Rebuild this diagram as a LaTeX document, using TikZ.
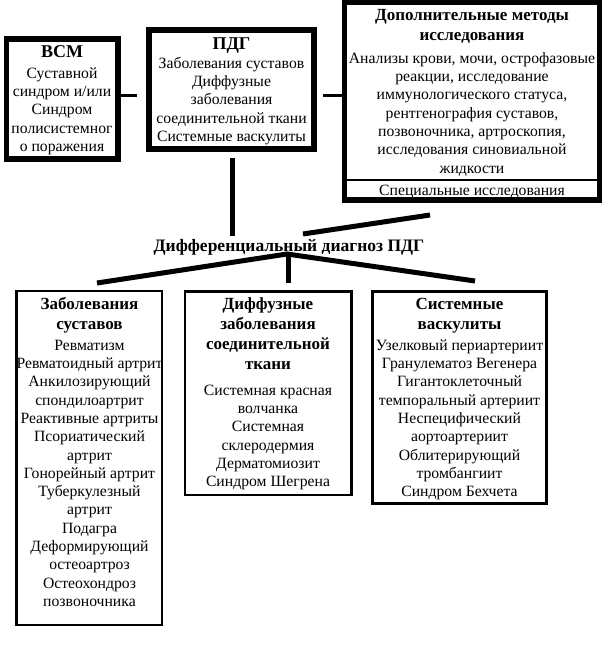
\documentclass[tikz,border=0pt]{standalone}
\usepackage{fontspec}
\setmainfont{Liberation Serif}
\begin{document}
\begin{tikzpicture}[x=1pt,y=-1pt,
  heavybox/.style={draw, line width=5.5pt, inner sep=0pt, rectangle},
  lightbox/.style={draw, line width=2.8pt, inner sep=0pt, rectangle},
  bodytext/.style={inner sep=0pt, align=center, anchor=north, font=\fontsize{15.7}{18.3}\selectfont},
  headtext/.style={inner sep=0pt, align=center, anchor=north, font=\fontsize{17}{20}\selectfont\bfseries},
  bigtitle/.style={inner sep=0pt, anchor=base, font=\fontsize{18}{20}\selectfont\bfseries},
  thinconn/.style={line width=3pt},
  heavyconn/.style={line width=5pt}]
\useasboundingbox (0,0) rectangle (603,649);
\fill[white] (0,0) rectangle (603,649);
% top boxes
\node[heavybox, minimum width=111.5pt, minimum height=120pt] (vsm) at (62.25,99) {};
\node[heavybox, minimum width=165pt, minimum height=119pt] (pdg) at (231.5,89.5) {};
\node[heavybox, minimum width=255pt, minimum height=198pt] (dop) at (472,101) {};
\coordinate (dv) at (0,180);
\draw[line width=2pt] (dop.west |- dv) -- (dop.east |- dv);
% bottom boxes
\node[lightbox, minimum width=145.5pt, minimum height=334pt] (b1) at (89.25,458) {};
\node[lightbox, minimum width=166.5pt, minimum height=203.5pt] (b2) at (268.25,393.25) {};
\node[lightbox, minimum width=174pt, minimum height=212pt] (b3) at (459.5,397.5) {};
% texts
\node[bigtitle] (tvsm) at (62,57) {ВСМ};
\node[bodytext] (bvsm) at (62,65) {\rule{0pt}{13pt}Суставной\\синдром и/или\\Синдром\\полисистемног\\о поражения};
\node[bigtitle] (tpdg) at (231.5,49) {ПДГ};
\node[bodytext] (bpdg) at (231.5,55) {\rule{0pt}{13pt}Заболевания суставов\\Диффузные\\заболевания\\соединительной ткани\\Системные васкулиты};
\node[headtext] (tdop) at (472,6) {\rule{0pt}{14pt}Дополнительные методы\\исследования};
\node[bodytext] (bdop) at (472,50) {\rule{0pt}{13pt}Анализы крови, мочи, острофазовые\\реакции, исследование\\иммунологического статуса,\\рентгенография суставов,\\позвоночника, артроскопия,\\исследования синовиальной\\жидкости};
\node[inner sep=0pt, anchor=base, font=\fontsize{15.7}{18.3}\selectfont] (sdop) at (472,195) {Специальные исследования};
\node[inner sep=0pt, anchor=base, font=\fontsize{17.5}{20}\selectfont\bfseries] (dd) at (289,251) {Дифференциальный диагноз ПДГ};
\node[headtext] (tb1) at (89.5,295) {\rule{0pt}{14pt}Заболевания\\суставов};
\node[bodytext] (bb1) at (89.5,337) {\rule{0pt}{13pt}Ревматизм\\Ревматоидный артрит\\Анкилозирующий\\спондилоартрит\\Реактивные артриты\\Псориатический\\артрит\\Гонорейный артрит\\Туберкулезный\\артрит\\Подагра\\Деформирующий\\остеоартроз\\Остеохондроз\\позвоночника};
\node[headtext] (tb2) at (268,295) {\rule{0pt}{14pt}Диффузные\\заболевания\\соединительной\\ткани};
\node[bodytext] (bb2) at (268,382) {\rule{0pt}{13pt}Системная красная\\волчанка\\Системная\\склеродермия\\Дерматомиозит\\Синдром Шегрена};
\node[headtext] (tb3) at (459.5,295) {\rule{0pt}{14pt}Системные\\васкулиты};
\node[bodytext] (bb3) at (459.5,337) {\rule{0pt}{13pt}Узелковый периартериит\\Гранулематоз Вегенера\\Гигантоклеточный\\темпоральный артериит\\Неспецифический\\аортоартериит\\Облитерирующий\\тромбангиит\\Синдром Бехчета};
% connectors
\coordinate (j1) at (137,95);
\draw[thinconn] (vsm.east |- j1) -- (j1);
\coordinate (j2) at (323,95);
\draw[thinconn] (j2) -- (j2 -| dop.west);
\coordinate (v1) at (232.5,236);
\draw[heavyconn, shorten <=6pt] (pdg.south -| v1) -- (v1);
\coordinate (d1) at (430,215);
\coordinate (d2) at (303,234);
\draw[heavyconn] (d1) -- (d2);
\coordinate (apex) at (287,254);
\coordinate (fl) at (97,283);
\coordinate (fr) at (475,281);
\coordinate (fm) at (288,283);
\draw[heavyconn] (fl) -- (apex) -- (fr);
\draw[heavyconn] (apex -| fm) -- (fm);
\end{tikzpicture}
\end{document}
